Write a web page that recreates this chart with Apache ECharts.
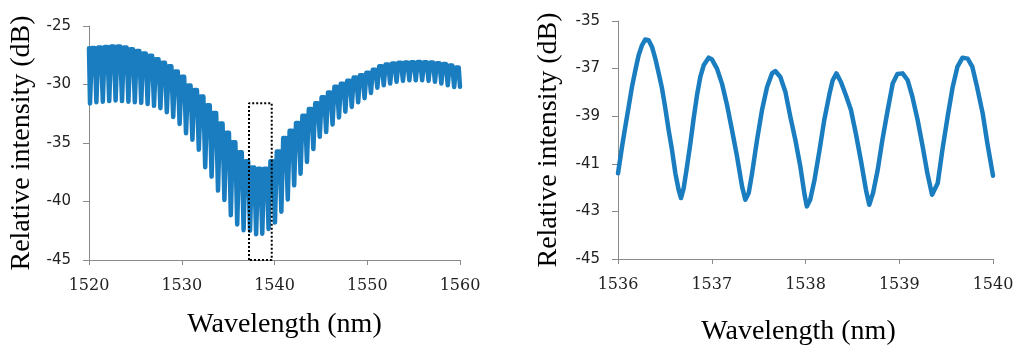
<!DOCTYPE html>
<html><head><meta charset="utf-8">
<script src="https://cdn.jsdelivr.net/npm/echarts@6/dist/echarts.min.js"></script>
<style>html,body{margin:0;padding:0;background:#fff}#c{width:1024px;height:356px}</style>
</head><body><div id="c"></div>
<script>
// ---------- Left panel: full spectrum (values read per interference fringe) ----------
const fringeTroughWl = [1520.11,1520.80,1521.49,1522.18,1522.87,1523.56,1524.25,1524.94,1525.63,1526.32,
  1527.01,1527.70,1528.39,1529.08,1529.77,1530.46,1531.15,1531.84,1532.53,1533.22,
  1533.91,1534.60,1535.29,1535.98,1536.67,1537.36,1538.02,1538.68,1539.36,1540.05,
  1540.74,1541.43,1542.12,1542.81,1543.50,1544.19,1544.88,1545.57,1546.26,1546.95,
  1547.64,1548.33,1549.02,1549.71,1550.40,1551.09,1551.78,1552.47,1553.16,1553.85,
  1554.54,1555.23,1555.92,1556.61,1557.30,1557.99,1558.68,1559.37];
const fringeTroughDb = [-31.62,-31.52,-31.47,-31.42,-31.37,-31.42,-31.47,-31.52,-31.57,-31.67,
  -31.82,-32.02,-32.37,-32.77,-33.37,-34.17,-34.72,-35.57,-37.07,-37.87,
  -39.07,-39.87,-41.17,-41.97,-42.45,-42.50,-42.80,-42.75,-42.35,-41.80,
  -40.87,-39.82,-38.62,-37.62,-36.62,-35.52,-34.47,-34.07,-33.42,-32.82,
  -32.32,-31.92,-31.52,-31.17,-30.72,-30.27,-30.07,-29.92,-29.77,-29.69,
  -29.63,-29.63,-29.63,-29.69,-29.77,-29.92,-30.07,-30.22];
const fringePeakDb = [-26.88,-26.83,-26.79,-26.76,-26.75,-26.83,-26.98,-27.13,-27.35,-27.55,
  -27.85,-28.15,-28.45,-28.88,-29.33,-30.08,-30.48,-31.03,-31.78,-32.43,
  -33.33,-34.13,-34.93,-35.80,-36.55,-37.10,-37.20,-37.20,-36.55,-35.73,
  -34.58,-33.96,-33.28,-32.68,-32.10,-31.60,-31.08,-30.68,-30.20,-29.93,
  -29.67,-29.41,-29.20,-28.99,-28.73,-28.43,-28.28,-28.20,-28.15,-28.13,
  -28.10,-28.08,-28.10,-28.13,-28.18,-28.25,-28.38,-28.55];
const fullStart = [1520.0, -26.9];
const fullEnd = [1560.0, -30.2];
// dotted box marking the zoomed region: [fromWl, toWl, topDb, bottomDb]
const zoomBox = [1537.25, 1539.7, -31.6, -45];

// ---------- Right panel: zoom 1536-1540 nm ----------
const zoomWl = [1536.000,1536.043,1536.078,1536.114,1536.149,1536.185,1536.220,1536.256,1536.290,1536.327,
  1536.363,1536.398,1536.434,1536.470,1536.505,1536.540,1536.576,1536.612,1536.647,1536.672,
  1536.700,1536.736,1536.772,1536.807,1536.843,1536.878,1536.914,1536.967,1537.003,1537.056,
  1537.109,1537.163,1537.216,1537.270,1537.323,1537.358,1537.394,1537.430,1537.483,1537.536,
  1537.590,1537.643,1537.678,1537.732,1537.785,1537.838,1537.892,1537.945,1537.990,1538.014,
  1538.050,1538.096,1538.150,1538.200,1538.257,1538.290,1538.330,1538.378,1538.430,1538.485,
  1538.540,1538.590,1538.645,1538.680,1538.720,1538.770,1538.820,1538.877,1538.930,1538.980,
  1539.036,1539.090,1539.140,1539.196,1539.250,1539.300,1539.350,1539.370,1539.410,1539.460,
  1539.516,1539.570,1539.620,1539.675,1539.730,1539.780,1539.830,1539.890,1539.940,1540.000];
const zoomDb = [-41.40,-40.28,-39.44,-38.60,-37.77,-37.07,-36.44,-36.02,-35.78,-35.81,
  -36.09,-36.58,-37.20,-37.84,-38.67,-39.58,-40.42,-41.40,-42.10,-42.44,
  -42.03,-41.12,-40.14,-39.09,-38.11,-37.35,-36.86,-36.54,-36.62,-37.00,
  -37.63,-38.53,-39.58,-40.70,-41.95,-42.51,-42.23,-41.40,-40.00,-38.74,
  -37.77,-37.20,-37.10,-37.35,-37.97,-39.02,-40.00,-41.12,-42.30,-42.79,
  -42.51,-41.68,-40.42,-39.16,-38.04,-37.49,-37.20,-37.56,-38.11,-38.74,
  -39.79,-40.84,-42.10,-42.72,-42.23,-41.26,-40.00,-38.74,-37.63,-37.23,
  -37.20,-37.49,-38.18,-39.16,-40.28,-41.40,-42.30,-42.37,-41.82,-40.42,
  -39.02,-37.77,-36.93,-36.54,-36.58,-36.93,-37.77,-38.88,-40.14,-41.50];

// ---------- Tick labels ----------
const leftXTicks = [1520, 1530, 1540, 1550, 1560];
const leftYTicks = [-45, -40, -35, -30, -25];
const rightXTicks = [1536, 1537, 1538, 1539, 1540];
const rightYTicks = [-45, -43, -41, -39, -37, -35];

const xTitle = 'Wavelength (nm)';
const yTitle = 'Relative intensity (dB)';

// ---- build the left polyline: each fringe = sharp trough + broad (flat) peak ----
const PEAK_FLANK = 0.2; // nm, drawing shape: distance from trough to start of the broad peak
const fullData = [fullStart];
for (let i = 0; i < fringeTroughWl.length; i++) {
  const t = fringeTroughWl[i];
  const period = (i + 1 < fringeTroughWl.length) ? fringeTroughWl[i + 1] - t : t - fringeTroughWl[i - 1];
  fullData.push([t, fringeTroughDb[i]]);
  fullData.push([t + PEAK_FLANK, fringePeakDb[i]]);
  fullData.push([t + period - PEAK_FLANK, fringePeakDb[i]]);
}
fullData.push(fullEnd);

const boxData = [[zoomBox[0], zoomBox[3]], [zoomBox[0], zoomBox[2]], [zoomBox[1], zoomBox[2]], [zoomBox[1], zoomBox[3]], [zoomBox[0], zoomBox[3]]];
const zoomData = zoomWl.map((w, i) => [w, zoomDb[i]]);

const BLUE = '#1a7dc0';
const AXIS = '#8a8a8a';
const serifTitle = {fontFamily: 'Liberation Serif', fontSize: 28, color: '#000'};
const yLabel = {fontFamily: 'DejaVu Sans', fontSize: 15, color: '#222', margin: 18};
const xLabel = {fontFamily: 'DejaVu Serif', fontSize: 16, color: '#222', margin: 18};

function xAx(gi, ticks, nameGap, pad) {
  return {
    type: 'value', gridIndex: gi, min: ticks[0], max: ticks[ticks.length - 1],
    interval: ticks[1] - ticks[0],
    axisLine: {onZero: false, lineStyle: {color: AXIS, width: 1}},
    axisTick: {show: true, length: 5, lineStyle: {color: AXIS}},
    splitLine: {show: false},
    axisLabel: Object.assign({formatter: v => String(v)}, xLabel),
    name: xTitle, nameLocation: 'middle', nameGap: nameGap,
    nameTextStyle: Object.assign({padding: pad}, serifTitle)
  };
}
function yAx(gi, ticks, nameGap, custom) {
  const ax = {
    type: 'value', gridIndex: gi, min: ticks[0], max: ticks[ticks.length - 1],
    axisLine: {show: true, onZero: false, lineStyle: {color: AXIS, width: 1}},
    axisTick: {show: true, length: 6, lineStyle: {color: AXIS}},
    splitLine: {show: false},
    axisLabel: Object.assign({formatter: v => String(v)}, yLabel),
    name: yTitle, nameLocation: 'middle', nameGap: nameGap, nameRotate: 90,
    nameTextStyle: serifTitle
  };
  if (custom) {
    ax.axisTick.customValues = ticks;
    ax.axisLabel.customValues = ticks;
  } else {
    ax.interval = ticks[1] - ticks[0];
  }
  return ax;
}

const chart = echarts.init(document.getElementById('c'), null, {renderer: 'canvas'});
chart.setOption({
  animation: false,
  backgroundColor: '#fff',
  grid: [
    {left: 89, top: 26, width: 371, height: 234},
    {left: 618, top: 21, width: 375, height: 238}
  ],
  xAxis: [xAx(0, leftXTicks, 51, [0, 0, 0, 20]), xAx(1, rightXTicks, 59, [0, 14, 0, 0])],
  yAxis: [yAx(0, leftYTicks, 53, false), yAx(1, rightYTicks, 55, true)],
  series: [
    {type: 'line', xAxisIndex: 0, yAxisIndex: 0, data: fullData, symbol: 'none', z: 2,
     lineStyle: {color: BLUE, width: 4.5, join: 'round', cap: 'round'}},
    {type: 'line', xAxisIndex: 0, yAxisIndex: 0, data: boxData, symbol: 'none', z: 3,
     lineStyle: {color: '#000', width: 2, type: 'dotted'}},
    {type: 'line', xAxisIndex: 1, yAxisIndex: 1, data: zoomData, symbol: 'none', z: 2,
     lineStyle: {color: BLUE, width: 4.5, join: 'round', cap: 'round'}}
  ]
});
</script></body></html>
